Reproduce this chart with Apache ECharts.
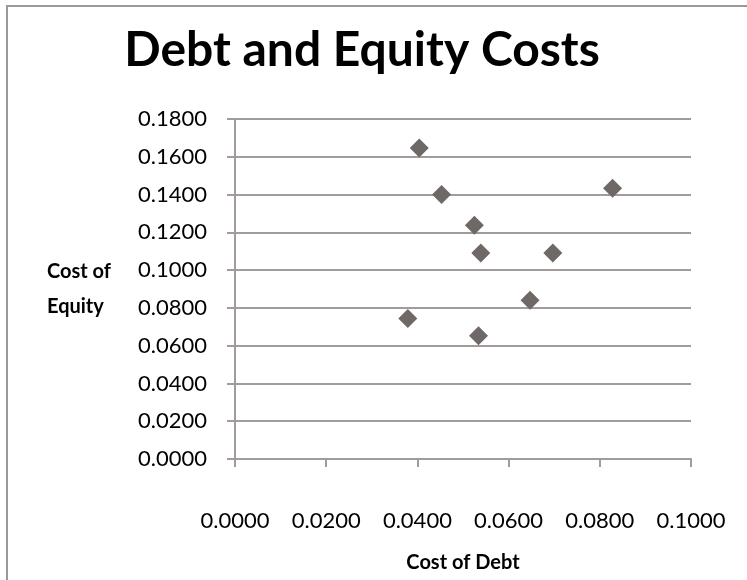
<!DOCTYPE html>
<html>
<head>
<meta charset="utf-8">
<script src="https://cdn.jsdelivr.net/npm/echarts@6/dist/echarts.min.js"></script>
<style>
html,body{margin:0;padding:0;background:#fff;}
#chart{width:747px;height:580px;}
</style>
</head>
<body>
<div id="chart"></div>
<script>
// Data
const costOfDebt   = [0.0404, 0.0453, 0.0525, 0.0539, 0.0697, 0.0828, 0.0647, 0.0534, 0.0379];
const costOfEquity = [0.1647, 0.1400, 0.1238, 0.1090, 0.1090, 0.1433, 0.0841, 0.0652, 0.0744];
const xTicks = [0.0000, 0.0200, 0.0400, 0.0600, 0.0800, 0.1000];
const yTicks = [0.0000, 0.0200, 0.0400, 0.0600, 0.0800, 0.1000, 0.1200, 0.1400, 0.1600, 0.1800];
const chartTitle = 'Debt and Equity Costs';
const xName = 'Cost of Debt';
const yNameLines = ['Cost of', 'Equity'];

const FONT = 'Lato, "Open Sans", sans-serif';
const GRAY = '#a19c9a';

const points = costOfDebt.map((x, i) => [x, costOfEquity[i]]);

const chart = echarts.init(document.getElementById('chart'));
chart.setOption({
  animation: false,
  backgroundColor: '#ffffff',
  title: {
    text: chartTitle,
    left: 357, top: 22, textAlign: 'center',
    textStyle: {fontFamily: FONT, fontSize: 48, fontWeight: 'bold', color: '#000'}
  },
  grid: {left: 235, right: 56, top: 119, bottom: 121, containLabel: false},
  xAxis: {
    type: 'value',
    min: xTicks[0], max: xTicks[xTicks.length - 1], interval: 0.02,
    name: xName, nameLocation: 'middle', nameGap: 94,
    nameTextStyle: {fontFamily: FONT, fontSize: 20, fontWeight: 'bold', color: '#000'},
    axisLine: {show: true, lineStyle: {color: GRAY, width: 2}},
    axisTick: {show: true, inside: false, length: 8, lineStyle: {color: GRAY, width: 2}},
    axisLabel: {margin: 51, fontFamily: FONT, fontSize: 22, color: '#000',
      formatter: v => v.toFixed(4)},
    splitLine: {show: false}
  },
  yAxis: {
    type: 'value',
    min: yTicks[0], max: yTicks[yTicks.length - 1], interval: 0.02,
    axisLine: {show: true, lineStyle: {color: GRAY, width: 2}},
    axisTick: {show: true, inside: false, length: 8, lineStyle: {color: GRAY, width: 2}},
    axisLabel: {margin: 28, fontFamily: FONT, fontSize: 22, color: '#000',
      formatter: v => v.toFixed(4)},
    splitLine: {show: true, lineStyle: {color: GRAY, width: 2}}
  },
  graphic: [
    {type: 'rect', shape: {x: 7, y: 6, width: 800, height: 700},
     style: {fill: 'none', stroke: '#9d9896', lineWidth: 2}, silent: true},
    {type: 'text', left: 47, top: 254,
     style: {text: yNameLines.join('\n'), fontFamily: FONT, fontSize: 20, fontWeight: 'bold',
       fill: '#000', align: 'center', lineHeight: 35, width: 90}}
  ],
  series: [{
    type: 'scatter',
    data: points,
    symbol: 'diamond',
    symbolSize: 19,
    itemStyle: {color: '#6e6866', opacity: 1}
  }]
});
</script>
</body>
</html>
